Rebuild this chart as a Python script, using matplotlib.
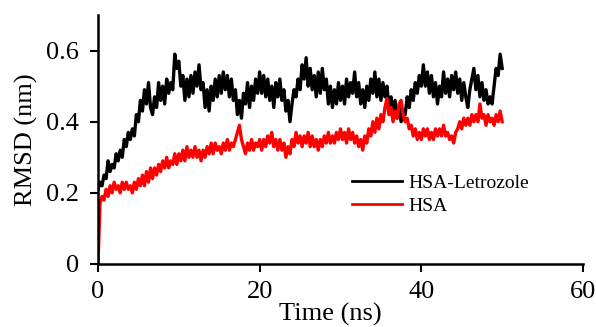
import numpy as np
import matplotlib
matplotlib.use("Agg")
import matplotlib.pyplot as plt

# RMSD traces, one value every 0.25 ns (0 - 50 ns)
time_step = 0.25
rmsd_complex = [
    0.21, 0.23, 0.22, 0.25, 0.24, 0.29, 0.26, 0.28, 0.27, 0.31, 0.29, 0.32, 0.30, 0.35, 0.33, 0.37, 0.35, 0.38, 0.36, 0.42,
    0.40, 0.46, 0.43, 0.49, 0.45, 0.51, 0.44, 0.42, 0.47, 0.44, 0.51, 0.46, 0.50, 0.45, 0.52, 0.48, 0.51, 0.49, 0.59, 0.55,
    0.57, 0.50, 0.53, 0.46, 0.52, 0.47, 0.53, 0.48, 0.54, 0.50, 0.56, 0.49, 0.51, 0.44, 0.49, 0.43, 0.50, 0.46, 0.52, 0.47,
    0.53, 0.48, 0.54, 0.49, 0.53, 0.47, 0.52, 0.46, 0.49, 0.42, 0.46, 0.41, 0.48, 0.45, 0.51, 0.44, 0.50, 0.46, 0.52, 0.48,
    0.54, 0.48, 0.53, 0.47, 0.52, 0.46, 0.50, 0.44, 0.51, 0.47, 0.52, 0.46, 0.49, 0.43, 0.46, 0.40, 0.45, 0.49, 0.47, 0.52,
    0.49, 0.56, 0.52, 0.58, 0.50, 0.55, 0.49, 0.53, 0.47, 0.54, 0.48, 0.55, 0.49, 0.52, 0.45, 0.50, 0.44, 0.49, 0.45, 0.51,
    0.46, 0.50, 0.45, 0.52, 0.47, 0.51, 0.48, 0.54, 0.47, 0.51, 0.45, 0.49, 0.44, 0.50, 0.46, 0.52, 0.48, 0.54, 0.47, 0.52,
    0.46, 0.51, 0.47, 0.50, 0.44, 0.47, 0.42, 0.46, 0.41, 0.44, 0.40, 0.43, 0.42, 0.47, 0.44, 0.49, 0.46, 0.51, 0.48, 0.53,
    0.50, 0.56, 0.50, 0.54, 0.48, 0.53, 0.47, 0.51, 0.45, 0.50, 0.47, 0.54, 0.48, 0.52, 0.47, 0.53, 0.49, 0.54, 0.48, 0.52,
    0.46, 0.51, 0.47, 0.44, 0.49, 0.52, 0.55, 0.49, 0.53, 0.47, 0.51, 0.46, 0.49, 0.45, 0.47, 0.45, 0.50, 0.55, 0.53, 0.59,
    0.55,
]
rmsd_hsa = [
    0.00, 0.17, 0.19, 0.18, 0.21, 0.19, 0.22, 0.20, 0.23, 0.21, 0.22, 0.20, 0.23, 0.21, 0.23, 0.21, 0.22, 0.20, 0.23, 0.21,
    0.24, 0.22, 0.25, 0.22, 0.26, 0.23, 0.27, 0.24, 0.27, 0.25, 0.28, 0.26, 0.29, 0.27, 0.30, 0.27, 0.29, 0.28, 0.31, 0.28,
    0.31, 0.29, 0.32, 0.29, 0.33, 0.30, 0.32, 0.30, 0.33, 0.30, 0.32, 0.29, 0.32, 0.30, 0.33, 0.31, 0.34, 0.31, 0.34, 0.32,
    0.33, 0.31, 0.34, 0.32, 0.35, 0.32, 0.34, 0.33, 0.35, 0.37, 0.39, 0.35, 0.33, 0.31, 0.34, 0.32, 0.35, 0.32, 0.34, 0.33,
    0.35, 0.32, 0.35, 0.33, 0.36, 0.34, 0.37, 0.33, 0.35, 0.32, 0.35, 0.32, 0.34, 0.30, 0.33, 0.31, 0.35, 0.33, 0.37, 0.34,
    0.36, 0.33, 0.36, 0.34, 0.37, 0.33, 0.36, 0.33, 0.35, 0.32, 0.35, 0.33, 0.36, 0.34, 0.37, 0.34, 0.36, 0.34, 0.37, 0.35,
    0.38, 0.35, 0.37, 0.34, 0.38, 0.35, 0.37, 0.34, 0.36, 0.33, 0.35, 0.32, 0.36, 0.34, 0.38, 0.36, 0.40, 0.37, 0.41, 0.38,
    0.42, 0.40, 0.44, 0.465, 0.42, 0.44, 0.40, 0.43, 0.41, 0.45, 0.46, 0.42, 0.40, 0.41, 0.38, 0.39, 0.36, 0.38, 0.35, 0.37,
    0.35, 0.38, 0.36, 0.38, 0.35, 0.37, 0.35, 0.38, 0.36, 0.38, 0.36, 0.39, 0.36, 0.37, 0.35, 0.36, 0.34, 0.37, 0.38, 0.40,
    0.38, 0.41, 0.39, 0.41, 0.39, 0.42, 0.40, 0.42, 0.40, 0.45, 0.41, 0.42, 0.39, 0.42, 0.40, 0.41, 0.39, 0.42, 0.40, 0.43,
    0.40,
]
labels = ["HSA-Letrozole", "HSA"]
x_ticks = [0, 20, 40, 60]
y_ticks = [0, 0.2, 0.4, 0.6]
y_tick_labels = ["0", "0.2", "0.4", "0.6"]

time = np.arange(len(rmsd_complex)) * time_step

plt.rcParams['font.family'] = ['Liberation Serif', 'DejaVu Serif']

fig = plt.figure(figsize=(5.96, 3.27), dpi=100)
ax = fig.add_axes([0.1644, 0.1927, 0.8138, 0.7613])

ax.plot(time, rmsd_complex, color='black', lw=2.4, label=labels[0])
ax.plot(time, rmsd_hsa, color='#ff0000', lw=2.4, label=labels[1])

ax.set_xlim(0, 60)
ax.set_ylim(0, 0.7)
ax.set_xticks(x_ticks)
ax.set_yticks(y_ticks)
ax.set_yticklabels(y_tick_labels)

for side in ['top', 'right']:
    ax.spines[side].set_visible(False)
for side in ['left', 'bottom']:
    ax.spines[side].set_linewidth(1.8)

ax.tick_params(axis='both', direction='out', length=5.5, width=1.5, labelsize=19)
ax.tick_params(axis='x', pad=7)
ax.tick_params(axis='y', pad=8)

ax.set_xlabel("Time (ns)", fontsize=19)
ax.set_ylabel("RMSD (nm)", fontsize=19)
ax.xaxis.set_label_coords(0.48, -0.155)
ax.yaxis.set_label_coords(-0.124, 0.5)

leg = ax.legend(frameon=False, fontsize=14, loc='upper left',
                bbox_to_anchor=(0.507, 0.39), borderaxespad=0,
                handlelength=2.6, handletextpad=0.3, labelspacing=0.25)
for line in leg.get_lines():
    line.set_linewidth(2.0)

fig.savefig("out.png", dpi=100)
